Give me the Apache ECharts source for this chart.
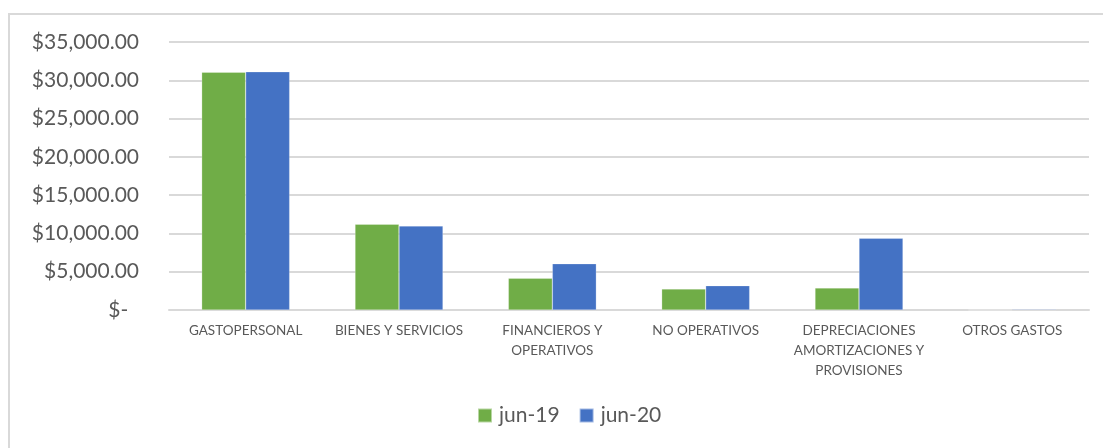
<!DOCTYPE html>
<html>
<head>
<meta charset="utf-8">
<script src="https://cdn.jsdelivr.net/npm/echarts@6/dist/echarts.min.js"></script>
<style>
    html, body { margin: 0; padding: 0; background: #fff; overflow: hidden; }
    #chart { width: 1103px; height: 448px; }
    .marco { position: absolute; left: 8px; top: 13px; width: 1200px; height: 600px;
             border-left: 2px solid #d9d9d9; border-top: 2px solid #d9d9d9; pointer-events: none; }
</style>
</head>
<body>
<div id="chart"></div>
<div class="marco"></div>
<script>
// categorias del eje x
var categorias = ['GASTOPERSONAL', 'BIENES Y SERVICIOS', 'FINANCIEROS Y\nOPERATIVOS', 'NO OPERATIVOS',
    'DEPRECIACIONES\nAMORTIZACIONES Y\nPROVISIONES', 'OTROS GASTOS'];
// series
var series_nombres = ['jun-19', 'jun-20'];
var jun19 = [31050, 11200, 4140, 2750, 2880, 0];
var jun20 = [31120, 10980, 6050, 3180, 9370, 90];
// eje y
var y_max = 35000;
var y_paso = 5000;

var colores = ['#70AD47', '#4472C4'];
var fuente = 'Lato';

var chart = echarts.init(document.getElementById('chart'));
var option = {
    animation: false,
    color: colores,
    grid: { left: 169, right: 14, top: 42, bottom: 138, containLabel: false },
    legend: {
        data: series_nombres,
        bottom: 17,
        left: 472,
        itemWidth: 14,
        itemHeight: 14,
        itemGap: 19,
        icon: 'rect',
        textStyle: { fontFamily: fuente, fontSize: 21, color: '#595959', padding: [0, 0, 0, 2] }
    },
    xAxis: {
        type: 'category',
        data: categorias,
        axisLine: { lineStyle: { color: '#d9d9d9', width: 2 } },
        axisTick: { show: false },
        axisLabel: {
            interval: 0,
            margin: 11,
            fontFamily: fuente,
            fontSize: 13.5,
            lineHeight: 20,
            color: '#595959'
        }
    },
    yAxis: {
        type: 'value',
        min: 0,
        max: y_max,
        interval: y_paso,
        axisLine: { show: false },
        axisTick: { show: false },
        splitLine: { lineStyle: { color: '#d9d9d9', width: 2 } },
        axisLabel: {
            margin: 30,
            fontFamily: fuente,
            fontSize: 21,
            color: '#595959',
            formatter: function (v) {
                if (v === 0) return '$-  ';
                return '$' + v.toLocaleString('en-US', { minimumFractionDigits: 2, maximumFractionDigits: 2 });
            }
        }
    },
    series: [
        { name: series_nombres[0], type: 'bar', data: jun19, barWidth: 44, barGap: '0%',
          itemStyle: { borderColor: 'rgba(255,255,255,0.5)', borderWidth: 0.5 } },
        { name: series_nombres[1], type: 'bar', data: jun20, barWidth: 44, barGap: '0%',
          itemStyle: { borderColor: 'rgba(255,255,255,0.5)', borderWidth: 0.5 } }
    ]
};
chart.setOption(option);
</script>
</body>
</html>
